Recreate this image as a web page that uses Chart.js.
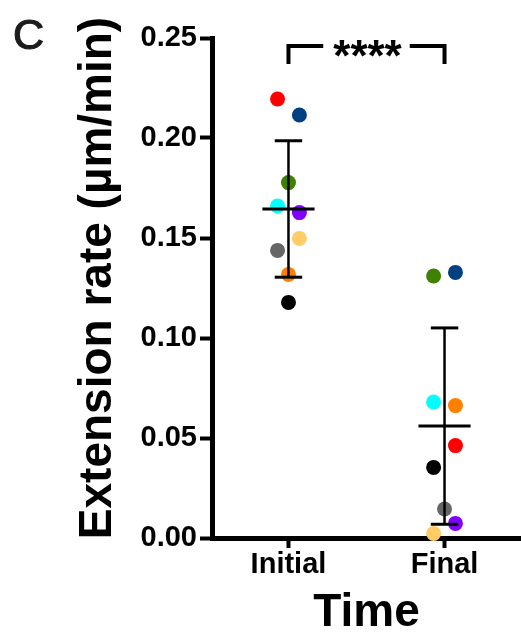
<!DOCTYPE html>
<html>
<head>
<meta charset="utf-8">
<script src="https://cdn.jsdelivr.net/npm/chart.js@4.4.0/dist/chart.umd.min.js"></script>
<style>
html, body { margin: 0; padding: 0; background: #fff; }
#wrap { width: 521px; height: 637px; position: relative; }
</style>
</head>
<body>
<div id="wrap"><canvas id="chart"></canvas></div>
<script>
const groups = ["Initial", "Final"];
const subjectColors = ["#ff0000", "#004080", "#408000", "#00ffff", "#8000ff", "#ffcc66", "#666666", "#ff8000", "#000000"];
const initialValues = [0.2195, 0.2115, 0.1777, 0.166, 0.1627, 0.1498, 0.1438, 0.1318, 0.1178];
const finalValues = [0.0462, 0.1328, 0.131, 0.068, 0.0073, 0.0023, 0.0145, 0.0662, 0.0353];
// column slot of each dot: -1 left, 0 centre, 1 right
const initialSlots = [-1, 1, 0, -1, 1, 1, -1, 0, 0];
const finalSlots = [1, 1, -1, -1, 1, -1, 0, 1, -1];
const yTicks = [0, 0.05, 0.10, 0.15, 0.20, 0.25];
const yTitle = "Extension rate (µm/min)";
const significance = "****";
const bracketTop = 0.246;
const bracketLeg = 0.237;

const FONT = "'Liberation Sans', Arial, Helvetica, sans-serif";
const SLOT = 0.07;      // x units between jittered dots
const MEAN_HALF = 0.167;
const CAP_HALF = 0.088;

function mean(a) { return a.reduce((s, v) => s + v, 0) / a.length; }
function sd(a) {
    let m = mean(a);
    return Math.sqrt(a.reduce((s, v) => s + (v - m) * (v - m), 0) / (a.length - 1));
}

function dots(values, slots, gi) {
    return {
        type: 'scatter',
        data: values.map((v, i) => ({ x: gi + slots[i] * SLOT, y: v })),
        backgroundColor: subjectColors,
        borderWidth: 0,
        pointRadius: 7.5,
        pointHoverRadius: 7.5,
        clip: false,
        order: 10
    };
}

function seg(x1, y1, x2, y2, w) {
    return {
        type: 'line',
        data: [{ x: x1, y: y1 }, { x: x2, y: y2 }],
        borderColor: '#000',
        borderWidth: w,
        pointRadius: 0,
        showLine: true,
        clip: false,
        order: 1
    };
}

function summary(values, gi) {
    let m = mean(values), s = sd(values);
    return [
        seg(gi, m - s, gi, m + s, 2.5),
        seg(gi - CAP_HALF, m + s, gi + CAP_HALF, m + s, 3),
        seg(gi - CAP_HALF, m - s, gi + CAP_HALF, m - s, 3),
        seg(gi - MEAN_HALF, m, gi + MEAN_HALF, m, 3)
    ];
}

// significance bracket, y title, panel letter
const extras = {
    id: 'extras',
    afterDatasetsDraw(chart) {
        const { ctx, chartArea, scales: { x, y } } = chart;
        ctx.save();
        ctx.font = "bold 44px " + FONT;
        let tw = ctx.measureText(significance).width;
        let x0 = x.getPixelForValue(0), x1 = x.getPixelForValue(1);
        let yt = y.getPixelForValue(bracketTop), yl = y.getPixelForValue(bracketLeg);
        let xm = (x0 + x1) / 2;
        ctx.strokeStyle = '#000';
        ctx.lineWidth = 4;
        ctx.lineJoin = 'miter';
        ctx.beginPath();
        ctx.moveTo(x0, yl);
        ctx.lineTo(x0, yt);
        ctx.lineTo(xm - tw / 2 - 9, yt);
        ctx.moveTo(xm + tw / 2 + 9, yt);
        ctx.lineTo(x1, yt);
        ctx.lineTo(x1, yl);
        ctx.stroke();
        ctx.fillStyle = '#000';
        ctx.textAlign = 'center';
        ctx.textBaseline = 'alphabetic';
        ctx.fillText(significance, xm + 1, yt + 25);

        // y axis title, sits a bit above the axis centre
        ctx.save();
        ctx.translate(98, (chartArea.top + chartArea.bottom) / 2 - 10);
        ctx.rotate(-Math.PI / 2);
        ctx.font = "bold 46px " + FONT;
        ctx.textBaseline = 'middle';
        ctx.fillText(yTitle, 0, 0);
        ctx.restore();

        ctx.font = "43px " + FONT;
        ctx.fillStyle = '#1c1c1c';
        ctx.strokeStyle = '#1c1c1c';
        ctx.lineWidth = 1.2;
        ctx.textAlign = 'left';
        ctx.fillText("C", 13, 49);
        ctx.strokeText("C", 13, 49);
        ctx.restore();
    }
};

const chart = new Chart(document.getElementById('chart'), {
    data: {
        datasets: [
            dots(initialValues, initialSlots, 0),
            dots(finalValues, finalSlots, 1),
            ...summary(initialValues, 0),
            ...summary(finalValues, 1)
        ]
    },
    options: {
        responsive: true,
        maintainAspectRatio: false,
        animation: false,
        layout: { autoPadding: false, padding: { top: 38, left: 0, right: 0, bottom: 0 } },
        plugins: { legend: { display: false }, tooltip: { enabled: false } },
        scales: {
            x: {
                type: 'linear',
                min: -0.49,
                max: 1.49,
                afterBuildTicks: s => { s.ticks = groups.map((g, i) => ({ value: i })); },
                afterFit: s => { s.height = 99; s.paddingLeft = 0; s.paddingRight = 0; },
                ticks: {
                    callback: v => groups[v],
                    color: '#000',
                    font: { family: FONT, size: 29, weight: 'bold' },
                    padding: 0,
                    maxRotation: 0,
                    autoSkip: false
                },
                grid: { drawOnChartArea: false, drawTicks: true, tickLength: 10, tickWidth: 4, tickColor: '#000' },
                border: { display: true, width: 5, color: '#000' },
                title: {
                    display: true,
                    text: 'Time',
                    color: '#000',
                    font: { family: FONT, size: 46, weight: 'bold', lineHeight: 1 },
                    padding: { top: 0, bottom: 1 }
                }
            },
            y: {
                type: 'linear',
                min: 0,
                max: 0.25,
                afterBuildTicks: s => { s.ticks = yTicks.map(v => ({ value: v })); },
                afterFit: s => { s.width = 212; },
                ticks: {
                    callback: v => v.toFixed(2),
                    color: '#000',
                    font: { family: FONT, size: 29, weight: 'bold' },
                    padding: 3
                },
                grid: { drawOnChartArea: false, drawTicks: true, tickLength: 12, tickWidth: 4, tickColor: '#000' },
                border: { display: true, width: 5, color: '#000' },
                title: { display: false }
            }
        }
    },
    plugins: [extras]
});
</script>
</body>
</html>
